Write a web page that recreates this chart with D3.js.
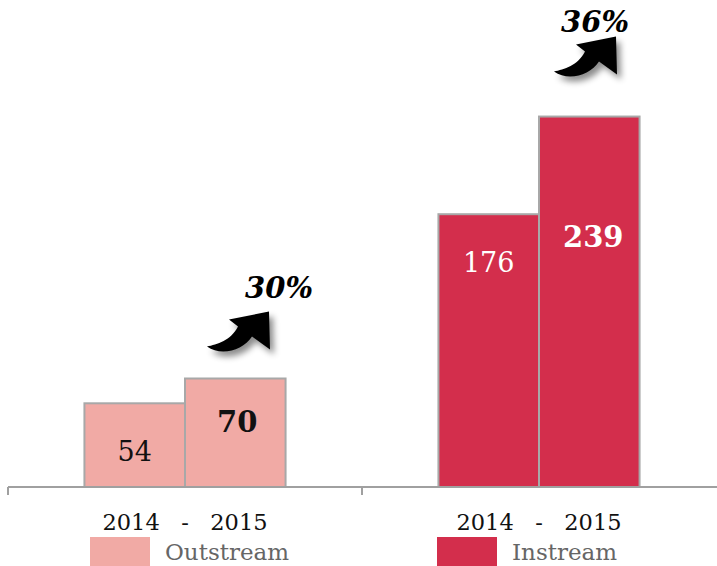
<!DOCTYPE html>
<html>
<head>
<meta charset="utf-8">
<script src="https://cdn.jsdelivr.net/npm/d3@7"></script>
<style>
  html, body { margin: 0; padding: 0; background: #fff; }
  svg { display: block; }
  text { font-family: "DejaVu Serif", "Liberation Serif", serif; }
</style>
</head>
<body>
<script>
// Video ad spend by format, 2014 vs 2015
const groups = ["Outstream", "Instream"];
const years = ["2014", "2015"];
const outstreamValues = [54, 70];
const instreamValues = [176, 239];
const growthLabels = ["30%", "36%"];
const tickLabel = "2014   -   2015";

const colors = { Outstream: "#f1aaa5", Instream: "#d32e4c" };
const seriesValues = { Outstream: outstreamValues, Instream: instreamValues };

const W = 717, H = 566;
const svg = d3.select("body").append("svg").attr("width", W).attr("height", H);

const defs = svg.append("defs");
const f = defs.append("filter").attr("id", "shadow")
  .attr("x", "-40%").attr("y", "-40%").attr("width", "200%").attr("height", "200%");
f.append("feDropShadow").attr("dx", 4).attr("dy", 5).attr("stdDeviation", 3)
  .attr("flood-color", "#000").attr("flood-opacity", 0.45);

const baseY = 487;
const y = d3.scaleLinear().domain([0, 280]).range([baseY, 53]);
const x0 = d3.scaleBand().domain(groups).range([8, 716]).padding(0);
const x1 = d3.scaleBand().domain(years).range([0, x0.bandwidth()])
  .paddingInner(0).paddingOuter(0.76);

// bars
groups.forEach(g => {
  const gg = svg.append("g").attr("transform", `translate(${x0(g)},0)`);
  gg.selectAll("rect").data(years.map((yr, i) => ({ yr, v: seriesValues[g][i] })))
    .join("rect")
    .attr("x", d => x1(d.yr))
    .attr("y", d => y(d.v))
    .attr("width", x1.bandwidth())
    .attr("height", d => baseY - y(d.v))
    .attr("fill", colors[g])
    .attr("stroke", "#a8a8a8")
    .attr("stroke-width", 2);
});

// value labels inside bars
const labelStyle = {
  Outstream: { fill: "#111", drops: [58, 53], shift: [0, 2] },
  Instream: { fill: "#fff", drops: [58, 130], shift: [0, 4] }
};
groups.forEach(g => {
  seriesValues[g].forEach((v, i) => {
    svg.append("text")
      .attr("x", x0(g) + x1(years[i]) + x1.bandwidth() / 2 + labelStyle[g].shift[i])
      .attr("y", y(v) + labelStyle[g].drops[i])
      .attr("text-anchor", "middle")
      .attr("font-size", i === 0 ? 27 : 29)
      .attr("font-weight", i === 0 ? "normal" : "bold")
      .attr("fill", labelStyle[g].fill)
      .text(v);
  });
});

// axis
const axis = d3.axisBottom(x0).tickSize(0).tickPadding(0).tickFormat(() => tickLabel);
const ax = svg.append("g").attr("transform", `translate(0,${baseY})`).call(axis);
ax.select(".domain").attr("stroke", "#a0a0a0").attr("stroke-width", 2)
  .attr("d", `M8,0H717`);
ax.selectAll(".tick text")
  .attr("y", 43)
  .attr("dy", 0)
  .attr("font-size", 22.5)
  .attr("fill", "#111")
  .attr("font-family", "DejaVu Serif")
  .style("white-space", "pre");
// category separators
ax.selectAll(".sep").data([8, x0("Instream")]).join("line")
  .attr("class", "sep")
  .attr("x1", d => d).attr("x2", d => d)
  .attr("y1", 0).attr("y2", 8)
  .attr("stroke", "#a0a0a0").attr("stroke-width", 2);

// growth arrows and percentages
const arrowPath = "M0,0 C10,-2 24,-6 31,-20 L22,-27 L62,-35 L63,3 L45,-10 C36,4 14,10 0,0 Z";
const annot = {
  Outstream: { ax: 22, ay: -32, tx: 94, ty: -81 },
  Instream: { ax: 15, ay: -45, tx: 56, ty: -85 }
};
groups.forEach((g, gi) => {
  const left = x0(g) + x1("2015");
  const top = y(seriesValues[g][1]);
  const a = annot[g];
  svg.append("path")
    .attr("d", arrowPath)
    .attr("transform", `translate(${left + a.ax},${top + a.ay})`)
    .attr("fill", "#000")
    .attr("filter", "url(#shadow)");
  svg.append("text")
    .attr("x", left + a.tx)
    .attr("y", top + a.ty)
    .attr("text-anchor", "middle")
    .attr("font-size", 29)
    .attr("font-weight", "bold")
    .attr("font-style", "italic")
    .attr("fill", "#000")
    .text(growthLabels[gi]);
});

// legend
const legendX = { Outstream: 90, Instream: 437 };
groups.forEach(g => {
  svg.append("rect")
    .attr("x", legendX[g]).attr("y", 537)
    .attr("width", 60).attr("height", 40)
    .attr("fill", colors[g]);
  svg.append("text")
    .attr("x", legendX[g] + 75).attr("y", 560)
    .attr("font-size", 23)
    .attr("fill", "#666")
    .text(g);
});
</script>
</body>
</html>
